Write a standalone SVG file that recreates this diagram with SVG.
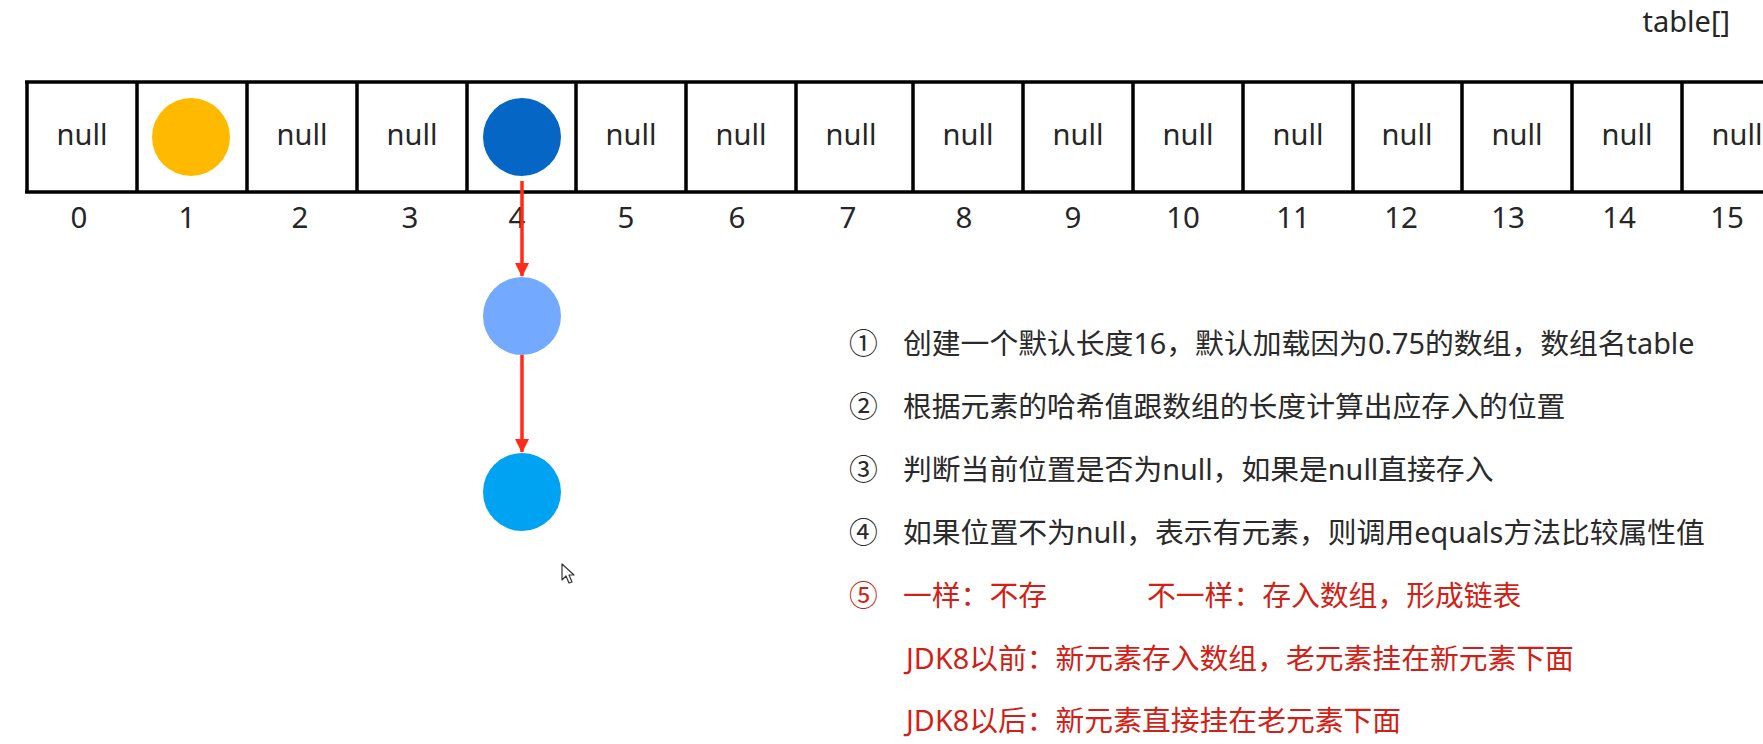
<svg xmlns="http://www.w3.org/2000/svg" width="1763" height="744" viewBox="0 0 1763 744">
<style>
.grid{stroke:#000;stroke-width:3.5;fill:none}
.nul{font-family:'Noto Sans','Noto Sans CJK SC',sans-serif;font-size:29px;fill:#262626;text-anchor:middle}
.idx{font-family:'Noto Sans','Noto Sans CJK SC',sans-serif;font-size:29.5px;fill:#262626;text-anchor:middle}
.txt{font-family:'Noto Sans','Noto Sans CJK SC',sans-serif;font-size:28.8px;fill:#2a2a2a}
.red{fill:#d21f17}
.conn{stroke:#ff2a1a;stroke-width:3.5;fill:none}
</style>
<defs>
<marker id="ah" markerWidth="14" markerHeight="14" refX="13" refY="7" orient="auto" markerUnits="userSpaceOnUse">
<path d="M0,0 L14,7 L0,14 Z" fill="#ff2a1a"/>
</marker>
</defs>
<rect width="1763" height="744" fill="#fff"/>
<g id="table">
<line class="grid" x1="25" y1="82" x2="1763" y2="82"/>
<line class="grid" x1="25" y1="192" x2="1763" y2="192"/>
<path class="grid" d="M27,82V192 M137,82V192 M247,82V192 M357,82V192 M467,82V192 M576,82V192 M686,82V192 M796,82V192 M913,82V192 M1023,82V192 M1133,82V192 M1243,82V192 M1353,82V192 M1462,82V192 M1572,82V192 M1682,82V192"/>
<text class="nul" x="82" y="145">null</text>
<text class="nul" x="302" y="145">null</text>
<text class="nul" x="412" y="145">null</text>
<text class="nul" x="631" y="145">null</text>
<text class="nul" x="741" y="145">null</text>
<text class="nul" x="851" y="145">null</text>
<text class="nul" x="968" y="145">null</text>
<text class="nul" x="1078" y="145">null</text>
<text class="nul" x="1188" y="145">null</text>
<text class="nul" x="1298" y="145">null</text>
<text class="nul" x="1407" y="145">null</text>
<text class="nul" x="1517" y="145">null</text>
<text class="nul" x="1627" y="145">null</text>
<text class="nul" x="1737" y="145">null</text>
<text class="idx" x="79" y="228">0</text>
<text class="idx" x="187" y="228">1</text>
<text class="idx" x="300" y="228">2</text>
<text class="idx" x="410" y="228">3</text>
<text class="idx" x="517" y="228">4</text>
<text class="idx" x="626" y="228">5</text>
<text class="idx" x="737" y="228">6</text>
<text class="idx" x="848" y="228">7</text>
<text class="idx" x="964" y="228">8</text>
<text class="idx" x="1073" y="228">9</text>
<text class="idx" x="1183" y="228">10</text>
<text class="idx" x="1293" y="228">11</text>
<text class="idx" x="1401" y="228">12</text>
<text class="idx" x="1508" y="228">13</text>
<text class="idx" x="1619" y="228">14</text>
<text class="idx" x="1727" y="228">15</text>
<text class="nul" x="1730" y="32" style="text-anchor:end">table[]</text>
</g>
<g id="node-yellow"><circle cx="191" cy="137" r="39" fill="#ffba00"/></g>
<g id="node-darkblue"><circle cx="522" cy="137" r="39" fill="#0566c6"/></g>
<g id="node-lightblue"><circle cx="522" cy="316" r="39" fill="#73aaff"/></g>
<g id="node-blue"><circle cx="522" cy="492" r="39" fill="#00a3f1"/></g>
<g id="connectors">
<line class="conn" x1="522" y1="181" x2="522" y2="276" marker-end="url(#ah)"/>
<line class="conn" x1="522" y1="355" x2="522" y2="452" marker-end="url(#ah)"/>
</g>
<g id="notes">
<text class="txt" x="849" y="354">①</text>
<text class="txt" x="903" y="354">创建一个默认长度16，默认加载因为0.75的数组，数组名table</text>
<text class="txt" x="849" y="417">②</text>
<text class="txt" x="903" y="417">根据元素的哈希值跟数组的长度计算出应存入的位置</text>
<text class="txt" x="849" y="480">③</text>
<text class="txt" x="903" y="480">判断当前位置是否为null，如果是null直接存入</text>
<text class="txt" x="849" y="543">④</text>
<text class="txt" x="903" y="543">如果位置不为null，表示有元素，则调用equals方法比较属性值</text>
<text class="txt red" x="849" y="606">⑤</text>
<text class="txt red" x="903" y="606">一样：不存</text>
<text class="txt red" x="1147" y="606">不一样：存入数组，形成链表</text>
<text class="txt red" x="906" y="669">JDK8以前：新元素存入数组，老元素挂在新元素下面</text>
<text class="txt red" x="906" y="731">JDK8以后：新元素直接挂在老元素下面</text>
</g>
<g id="cursor">
<path d="M562,564 L562,580 L566,576 L569,583 L572,582 L569,575 L574,575 Z" fill="#fff" stroke="#333" stroke-width="1.2" stroke-linejoin="round"/>
</g>
</svg>
